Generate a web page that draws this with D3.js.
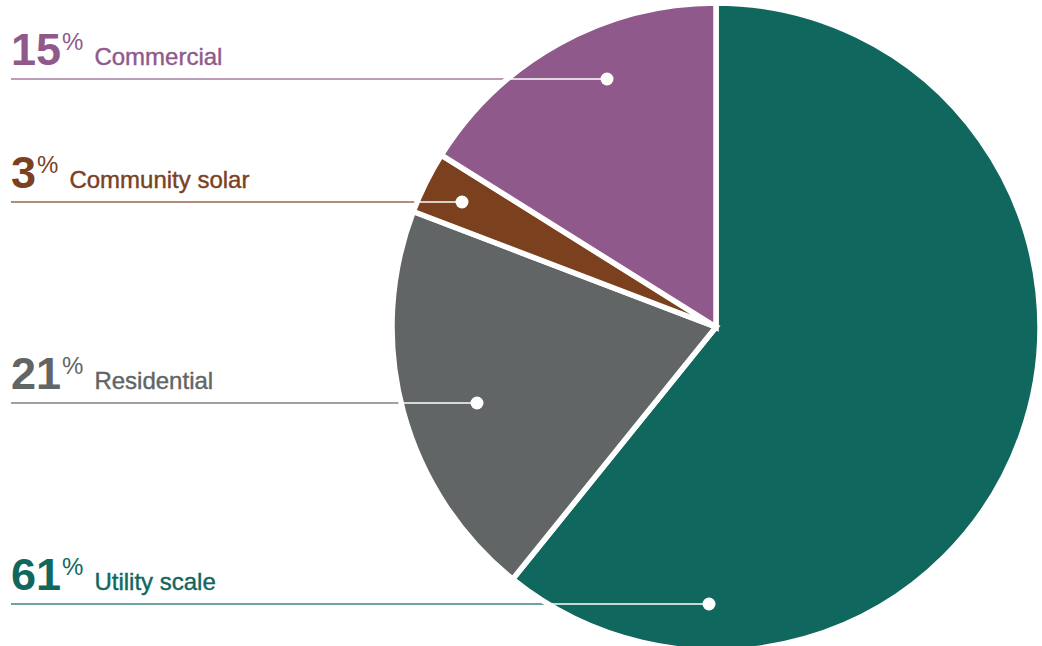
<!DOCTYPE html>
<html>
<head>
<meta charset="utf-8">
<script src="https://cdn.jsdelivr.net/npm/d3@7"></script>
<style>
  html, body { margin: 0; padding: 0; background: #fff; }
  svg { display: block; }
  text { font-family: "Liberation Sans", Arial, Helvetica, sans-serif; }
</style>
</head>
<body>
<svg id="chart" width="1042" height="646"></svg>
<script>
// ---- data ----
const categories = ["Utility scale", "Residential", "Community solar", "Commercial"];
const shares = [60.8, 20.0, 3.1, 16.1];          // drawn proportions
const shareLabels = ["61", "21", "3", "15"];     // printed labels
const colors = ["#10675e", "#616565", "#7b411f", "#8f5a8b"];

// ---- layout (annotations) ----
const labelLineY = [604, 403, 202, 79];
const dotX = [709, 477, 462, 607];

const W = 1042, H = 646;
const cx = 716, cy = 327, R = 324;

const svg = d3.select("#chart");

const data = categories.map((c, i) => ({
  name: c, value: shares[i], label: shareLabels[i], color: colors[i],
  ly: labelLineY[i], dx: dotX[i], idx: i
}));

const pie = d3.pie().sort(null).value(d => d.value).startAngle(0).endAngle(2 * Math.PI);
const arc = d3.arc().innerRadius(0).outerRadius(R);
const arcs = pie(data);

// colored leader lines (under the pie)
svg.append("g").selectAll("line").data(data).join("line")
  .attr("x1", 11).attr("x2", d => d.dx)
  .attr("y1", d => d.ly).attr("y2", d => d.ly)
  .attr("stroke", d => d.color).attr("stroke-width", 1.3).attr("stroke-opacity", 0.8);

const g = svg.append("g").attr("transform", `translate(${cx},${cy})`);

// clip paths per slice
const defs = svg.append("defs");
arcs.forEach((a, i) => {
  defs.append("clipPath").attr("id", "clip" + i)
    .append("path").attr("d", arc(a)).attr("transform", `translate(${cx},${cy})`);
});

g.selectAll("path.slice").data(arcs).join("path")
  .attr("class", "slice")
  .attr("d", arc)
  .attr("fill", d => d.data.color)
  .attr("stroke", "#fff")
  .attr("stroke-width", 5.5)
  .attr("stroke-linejoin", "miter");

// white leader lines inside each slice
svg.append("g").selectAll("line").data(data).join("line")
  .attr("clip-path", d => `url(#clip${d.idx})`)
  .attr("x1", 11).attr("x2", d => d.dx)
  .attr("y1", d => d.ly).attr("y2", d => d.ly)
  .attr("stroke", "#fff").attr("stroke-width", 1.5);

// dots
svg.append("g").selectAll("circle").data(data).join("circle")
  .attr("cx", d => d.dx).attr("cy", d => d.ly).attr("r", 6.5)
  .attr("fill", "#fff");

// labels
const lab = svg.append("g").selectAll("text").data(data).join("text")
  .attr("x", 11).attr("y", d => d.ly - 14)
  .attr("fill", d => d.color);
lab.append("tspan").attr("font-size", 45).attr("font-weight", "bold").text(d => d.label);
lab.append("tspan").attr("font-size", 24).attr("dy", -15).attr("dx", 1).text("%");
lab.append("tspan").attr("font-size", 24).attr("dy", 15).attr("dx", 11)
  .attr("stroke", d => d.color).attr("stroke-width", 0.4)
  .text(d => d.name);
</script>
</body>
</html>
